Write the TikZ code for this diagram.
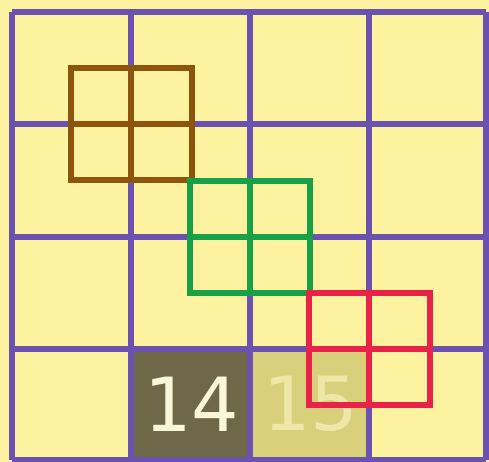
\documentclass[tikz,border=0pt]{standalone}
\usepackage{fontspec}
\newfontfamily\digitfont{DejaVu Sans}
\definecolor{bgy}{RGB}{252,242,160}
\definecolor{gridp}{RGB}{108,82,176}
\definecolor{brn}{RGB}{140,84,12}
\definecolor{grn}{RGB}{24,160,72}
\definecolor{rd}{RGB}{232,34,72}
\definecolor{darkc}{RGB}{110,104,72}
\definecolor{lightc}{RGB}{216,208,122}
\definecolor{txtw}{RGB}{250,246,218}
\definecolor{txtf}{RGB}{238,232,168}
\tikzset{
  gridline/.style={draw=gridp,line width=5.5bp},
  kernel/.style={line width=5.5bp},
  numtxt/.style={font=\digitfont\fontsize{75}{75}\selectfont,inner sep=0pt}
}
\begin{document}
\begin{tikzpicture}[x=1bp,y=-1bp]
\useasboundingbox (0,0) rectangle (489,462);
\fill[bgy] (0,0) rectangle (489,462);
% highlighted cells
\fill[darkc] (131,349) rectangle (250,460);
\fill[lightc] (250,349) rectangle (368,460);
\node[numtxt,text=txtw] (n14) at (192,404) {14};
\node[numtxt,text=txtf] (n15) at (311,404) {15};
% grid
\foreach \x in {12,131,250,369,486} \draw[gridline] (\x,12) -- (\x,460);
\foreach \y in {12,124,237,349,460} \draw[gridline] (12,\y) -- (486,\y);
% kernels
\draw[kernel,brn] (71,68) rectangle (192,180) (131,68) -- (131,180) (71,124) -- (192,124);
\draw[kernel,grn] (190,181) rectangle (310,293) (250,181) -- (250,293) (190,237) -- (310,237);
\draw[kernel,rd] (309,293) rectangle (430,405) (369,293) -- (369,405) (309,349) -- (430,349);
\end{tikzpicture}
\end{document}
